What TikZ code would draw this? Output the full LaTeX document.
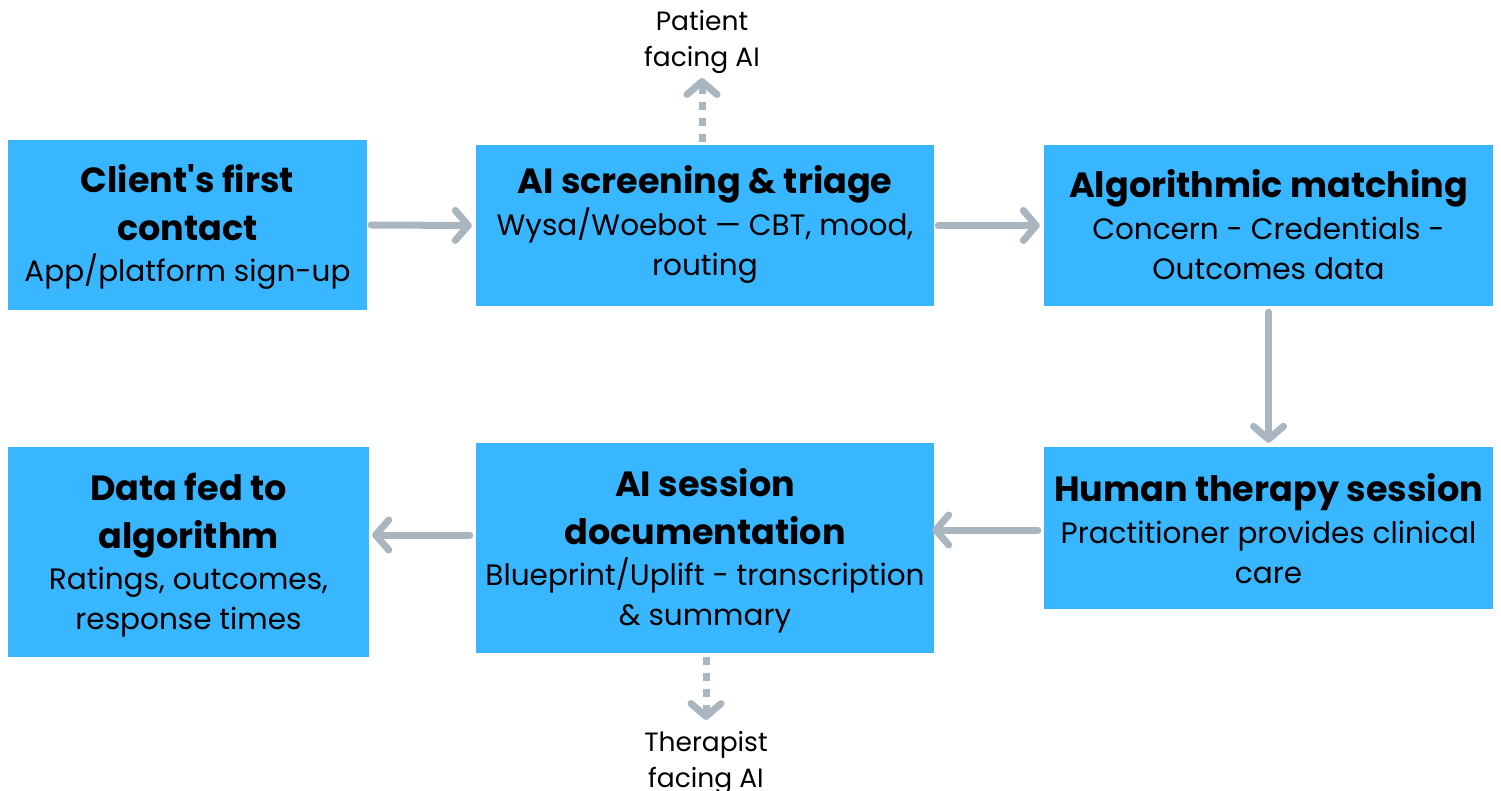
\documentclass[tikz,border=0pt]{standalone}
\usepackage{fontspec}
\setmainfont{Poppins}
\usetikzlibrary{arrows.meta}
\definecolor{boxblue}{HTML}{38B6FF}
\definecolor{flowgray}{HTML}{A9B6BF}
\newcommand{\ttl}[1]{{\fontsize{35}{40}\selectfont\bfseries #1}}
\newcommand{\sub}[1]{{\fontsize{29.5}{40}\selectfont #1}}
\tikzset{
  stage/.style={fill=boxblue, draw=none, inner sep=0pt},
  caption/.style={align=center, inner sep=0pt, font=\fontsize{29.5}{40}\selectfont},
  flow/.style={draw=flowgray, line width=7pt, line cap=round,
    -{Straight Barb[length=13pt, width=30pt, line cap=round, line join=round]}},
  aiflow/.style={draw=flowgray, line width=7pt, dash pattern=on 8pt off 8pt,
    -{Straight Barb[length=13pt, width=30pt, line cap=round, line join=round]}},
  note/.style={align=center, font=\fontsize{26.5}{36}\selectfont}
}
\begin{document}
\begin{tikzpicture}[x=1pt, y=-1pt]
\useasboundingbox (0,0) rectangle (1501,791);
% boxes
\node[stage, minimum width=359pt, minimum height=170pt] (contact) at (187.5,225) {};
\node[stage, minimum width=458pt, minimum height=161pt] (screen) at (705,225.5) {};
\node[stage, minimum width=449pt, minimum height=161pt] (match) at (1268.5,225.5) {};
\node[stage, minimum width=449pt, minimum height=162pt] (session) at (1268.5,528) {};
\node[stage, minimum width=458pt, minimum height=210pt] (docs) at (705,548) {};
\node[stage, minimum width=361pt, minimum height=210pt] (data) at (188.5,552) {};
% texts
\node[caption] (contact-t) at (187.5,227) {\ttl{Client\textquotesingle s first}\\[8pt]\ttl{contact}\\[1pt]\sub{App/platform sign-up}};
\node[caption] (screen-t) at (705,224.5) {\ttl{AI screening \& triage}\\[2pt]\sub{Wysa/Woebot — CBT, mood,}\\\sub{routing}};
\node[caption] (match-t) at (1268.5,224.5) {\ttl{Algorithmic matching}\\[2pt]\sub{Concern - Credentials -}\\\sub{Outcomes data}};
\node[caption] (session-t) at (1268.5,528.5) {\ttl{Human therapy session}\\[2pt]\sub{Practitioner provides clinical}\\\sub{care}};
\node[caption] (docs-t) at (705,550.5) {\ttl{AI session}\\[8pt]\ttl{documentation}\\[1pt]\sub{Blueprint/Uplift - transcription}\\\sub{\& summary}};
\node[caption] (data-t) at (188.5,555) {\ttl{Data fed to}\\[8pt]\ttl{algorithm}\\[1pt]\sub{Ratings, outcomes,}\\\sub{response times}};
% side labels
\node[note] (patient) at (702,42) {Patient\\facing AI};
\node[note] (therapist) at (706,763) {Therapist\\facing AI};
\coordinate (uptip) at (702,78);
\coordinate (downtip) at (706,720);
\coordinate (upfoot) at (702,142);
\coordinate (downfoot) at (706,657);
% connectors
\draw[flow] ([xshift=4pt]contact.east) -- ([xshift=-4pt]screen.west);
\draw[flow] ([xshift=4pt]screen.east) -- ([xshift=-4pt]match.west);
\draw[flow] ([yshift=-6pt]match.south) -- ([yshift=4pt]session.north);
\draw[flow] ([xshift=-6pt,yshift=-2pt]session.west) -- ([xshift=-2pt,yshift=-2pt]session.west -| docs.east);
\draw[flow] ([xshift=-6pt,yshift=13pt]docs.west) -- ([xshift=3pt,yshift=13pt]docs.west -| data.east);
\draw[aiflow] (upfoot) -- (uptip);
\draw[aiflow] (downfoot) -- (downtip);
\end{tikzpicture}
\end{document}
